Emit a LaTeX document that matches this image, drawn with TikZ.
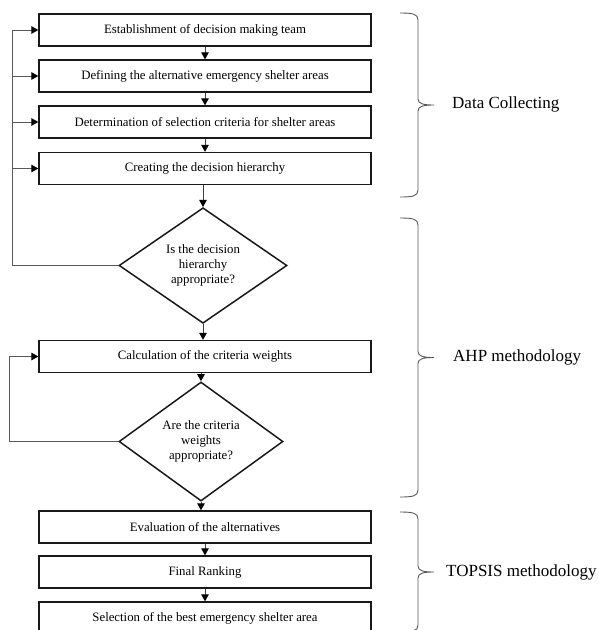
\documentclass[tikz,border=0pt]{standalone}
\usepackage{fontspec}
\setmainfont{Liberation Serif}
\usetikzlibrary{shapes.geometric,arrows.meta}
\newcommand\mybrace[3]{%
  \draw[bracestyle] (400,#1) .. controls (413,#1) and (418,#1+1) .. (418,#1+7)
    -- (418,#2-6) .. controls (418,#2-1) and (424,#2) .. (434,#2)
    .. controls (424,#2) and (418,#2+1) .. (418,#2+6)
    -- (418,#3-7) .. controls (418,#3-1) and (413,#3) .. (400,#3);}
\tikzset{
  stepbox/.style={draw=black!90, line width=1.3pt, minimum width=332pt, minimum height=32pt,
    inner sep=0pt, font=\fontsize{12.8}{15}\selectfont},
  decbox/.style={diamond, draw=black!90, line width=1.5pt, inner sep=0pt, align=center,
    font=\fontsize{12.8}{15}\selectfont},
  arr/.style={draw=black!75, line width=1pt, -{Triangle[length=7pt,width=7.5pt,color=black]}},
  fb/.style={draw=black!65, line width=1pt},
  fbarr/.style={fb, -{Triangle[length=7pt,width=7.5pt,color=black]}},
  bracestyle/.style={draw=black!65, line width=0.9pt},
  grouplabel/.style={anchor=west, inner sep=0pt, font=\fontsize{17}{20}\selectfont}
}
\begin{document}
\begin{tikzpicture}[x=1pt,y=-1pt]
\useasboundingbox (0,0) rectangle (598,630);
\fill[white] (0,0) rectangle (598,630);

\node[stepbox] (b1) at (205,30) {Establishment of decision making team};
\node[stepbox] (b2) at (205,76) {Defining the alternative emergency shelter areas};
\node[stepbox] (b3) at (205,122) {Determination of selection criteria for shelter areas};
\node[stepbox] (b4) at (205,168.5) {Creating the decision hierarchy};
\node[decbox, minimum width=168pt, minimum height=113pt] (d1) at (203,265.5)
  {Is the decision\\hierarchy\\appropriate?};
\node[stepbox] (b5) at (205,356.5) {Calculation of the criteria weights};
\node[decbox, minimum width=164pt, minimum height=113pt] (d2) at (201,441.5)
  {Are the criteria\\weights\\appropriate?};
\node[stepbox] (b6) at (205,527) {Evaluation of the alternatives};
\node[stepbox] (b7) at (205,572) {Final Ranking};
\node[stepbox] (b8) at (205,618) {Selection of the best emergency shelter area};

\draw[arr] (b1.south) -- (b2.north);
\draw[arr] (b2.south) -- (b3.north);
\draw[arr] (b3.south) -- (b4.north);
\draw[arr] (b4.south -| d1.north) -- (d1.north);
\draw[arr] (d1.south) -- (d1.south |- b5.north);
\draw[arr] (b5.south -| d2.north) -- (d2.north);
\draw[arr] (d2.south) -- (d2.south |- b6.north);
\draw[arr] (b6.south) -- (b7.north);
\draw[arr] (b7.south) -- (b8.north);

\coordinate (c1) at (12.7,30);
\draw[fb] (d1.west) -| (c1);
\draw[fbarr] (c1) -- (b1.west);
\draw[fbarr] (b2.west -| c1) -- (b2.west);
\draw[fbarr] (b3.west -| c1) -- (b3.west);
\draw[fbarr] (b4.west -| c1) -- (b4.west);

\coordinate (c2) at (9.3,356.5);
\draw[fb] (d2.west) -| (c2);
\draw[fbarr] (c2) -- (b5.west);

\mybrace{13}{105}{197}
\mybrace{218}{357.5}{497}
\mybrace{512}{572}{632}

\node[grouplabel] (l1) at (452,104) {Data Collecting};
\node[grouplabel] (l2) at (453,357) {AHP methodology};
\node[grouplabel] (l3) at (446,572) {TOPSIS methodology};
\end{tikzpicture}
\end{document}
